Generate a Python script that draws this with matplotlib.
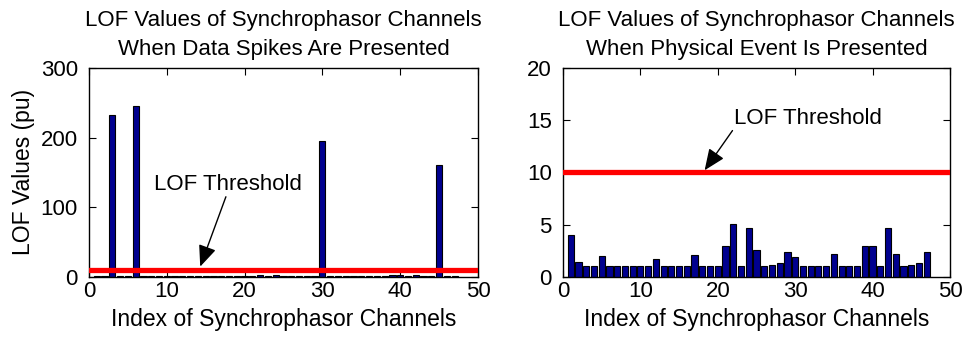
import matplotlib

matplotlib.use("Agg")

import matplotlib.pyplot as plt

# channel indices 1..47
channels = list(range(1, 48))

# LOF values, data spikes case
lof_spikes = [
    1.5, 1.2, 232, 1.0, 1.3, 245, 1.0, 1.1, 1.0, 1.2,
    1.0, 1.4, 1.0, 1.0, 1.1, 1.0, 1.6, 1.0, 1.0, 1.2,
    1.8, 2.5, 1.0, 2.0, 1.5, 1.0, 1.1, 1.2, 1.6, 195,
    1.0, 1.0, 1.1, 1.0, 1.5, 1.0, 1.0, 1.1, 2.0, 2.0,
    1.0, 2.5, 1.4, 1.0, 160, 1.2, 1.5,
]

# LOF values, physical event case
lof_event = [
    4.0, 1.4, 1.0, 1.0, 2.0, 1.0, 1.0, 1.0, 1.0, 1.0,
    1.0, 1.7, 1.0, 1.0, 1.05, 1.0, 2.1, 1.0, 1.0, 1.0,
    3.0, 5.05, 1.0, 4.65, 2.6, 1.0, 1.1, 1.3, 2.4, 1.95,
    1.0, 1.0, 1.0, 1.05, 2.15, 1.0, 1.0, 1.0, 3.0, 3.0,
    1.0, 4.65, 2.2, 1.0, 1.1, 1.3, 2.4,
]

THRESHOLD = 10
BAR_COLOR = "#00008f"
FONT = ["Liberation Sans", "DejaVu Sans"]

plt.rcParams["font.family"] = FONT
plt.rcParams["xtick.direction"] = "in"
plt.rcParams["ytick.direction"] = "in"
plt.rcParams["xtick.top"] = True
plt.rcParams["ytick.right"] = True

fig = plt.figure(figsize=(9.66, 3.41), dpi=100)
ax1 = fig.add_axes([0.0921, 0.188, 0.4027, 0.613])
ax2 = fig.add_axes([0.5828, 0.188, 0.4006, 0.613])

panels = [
    (ax1, lof_spikes, [0, 300], [0, 100, 200, 300],
     "LOF Values of Synchrophasor Channels\nWhen Data Spikes Are Presented",
     (14.3, 14.8), (17.6, 115), (17.8, 133)),
    (ax2, lof_event, [0, 20], [0, 5, 10, 15, 20],
     "LOF Values of Synchrophasor Channels\nWhen Physical Event Is Presented",
     (18.3, 10.2), (21.9, 14.0), (31.7, 15.2)),
]

for ax, vals, ylim, yticks, title, tip, tail, txt in panels:
    ax.bar(channels, vals, width=0.8, color=BAR_COLOR, edgecolor="black", linewidth=0.8, zorder=2)
    ax.plot([0, 50], [THRESHOLD, THRESHOLD], color="red", linewidth=3.8, zorder=3)
    ax.set_xlim(0, 50)
    ax.set_ylim(*ylim)
    ax.set_xticks([0, 10, 20, 30, 40, 50])
    ax.set_yticks(yticks)
    ax.tick_params(labelsize=16, length=5, width=0.8)
    ax.tick_params(axis="y", pad=8)
    ax.tick_params(axis="x", pad=3)
    for s in ax.spines.values():
        s.set_linewidth(1.0)
    ax.set_xlabel("Index of Synchrophasor Channels", fontsize=16.5, labelpad=4)
    ax.set_title(title, fontsize=16, linespacing=1.5, pad=9)
    ax.annotate("", xy=tip, xytext=tail,
                arrowprops=dict(arrowstyle="-|>,head_length=1.3,head_width=0.55",
                                color="black", lw=1.0, shrinkA=0, shrinkB=0),
                zorder=4)
    ax.text(txt[0], txt[1], "LOF Threshold", fontsize=16, ha="center", va="center")

ax1.set_ylabel("LOF Values (pu)", fontsize=16.5, labelpad=4)

fig.savefig("out.png", dpi=100)
